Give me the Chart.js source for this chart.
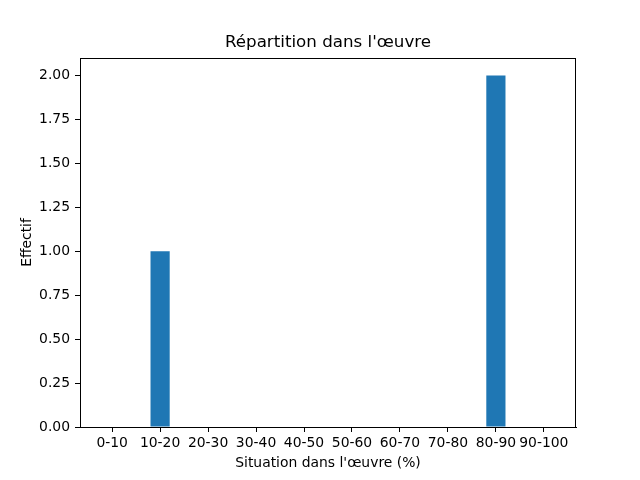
<!DOCTYPE html>
<html>
<head>
<meta charset="utf-8">
<script src="https://cdn.jsdelivr.net/npm/chart.js@4/dist/chart.umd.min.js"></script>
<style>
body{margin:0;background:#fff;}
canvas{display:block;}
</style>
</head>
<body>
<canvas id="c" width="640" height="480"></canvas>
<script>
// données
const categories = ["0-10","10-20","20-30","30-40","40-50","50-60","60-70","70-80","80-90","90-100"];
const effectifs = [0,1,0,0,0,0,0,0,2,0];
const yTicks = [0,0.25,0.5,0.75,1,1.25,1.5,1.75,2];
const titre = "Répartition dans l'œuvre";
const titreX = "Situation dans l'œuvre (%)";
const titreY = "Effectif";

const font = "DejaVu Sans";
const fs = 13.9;

// cadre + titre (comme matplotlib)
const framePlugin = {
    id: "frame",
    afterDraw(chart){
        const a = chart.chartArea, ctx = chart.ctx;
        ctx.save();
        ctx.strokeStyle = "#000";
        ctx.lineWidth = 1;
        ctx.strokeRect(a.left+0.5, a.top+0.5, a.right-a.left-1, a.bottom-a.top);
        ctx.fillStyle = "#000";
        ctx.font = "16.7px '" + font + "'";
        ctx.textAlign = "center";
        ctx.textBaseline = "middle";
        ctx.fillText(titre, (a.left+a.right)/2, 43);
        ctx.restore();
    }
};

new Chart(document.getElementById("c").getContext("2d"), {
    type: "bar",
    data: {
        datasets: [{
            data: effectifs.map((v,i)=>({x:i, y:v})),
            backgroundColor: "#1f77b4",
            borderColor: "#1f77b4",
            borderWidth: 0,
            inflateAmount: 0,
            barPercentage: 0.5,
            categoryPercentage: 0.8
        }]
    },
    options: {
        responsive: false,
        animation: false,
        layout: {padding: {left:0, right:64, top:58, bottom:0}},
        plugins: {legend: {display:false}, title: {display:false}, tooltip: {enabled:false}},
        scales: {
            x: {
                type: "linear",
                offset: false,
                min: -0.67, max: 9.67,
                afterBuildTicks: s => { s.ticks = categories.map((c,i)=>({value:i})); },
                afterFit: s => { s.height = 53; },
                ticks: {
                    callback: v => categories[v],
                    color: "#000", font: {family: font, size: fs}, padding: 3,
                    maxRotation: 0, autoSkip: false
                },
                grid: {drawOnChartArea:false, offset:false, tickLength:5, color:"#000"},
                border: {color:"#000"},
                title: {display:true, text:titreX, color:"#000", font:{family:font, size:fs}, padding:{top:2, bottom:8}}
            },
            y: {
                min: 0, max: 2.1,
                afterBuildTicks: s => { s.ticks = yTicks.map(v=>({value:v})); },
                afterFit: s => { s.width = 80; },
                ticks: {
                    callback: v => v.toFixed(2),
                    color: "#000", font: {family: font, size: fs}, padding: 5
                },
                grid: {drawOnChartArea:false, tickLength:5, color:"#000"},
                border: {color:"#000"},
                title: {display:true, text:titreY, color:"#000", font:{family:font, size:fs}, padding:{top:19, bottom:0}}
            }
        }
    },
    plugins: [framePlugin]
});
</script>
</body>
</html>
